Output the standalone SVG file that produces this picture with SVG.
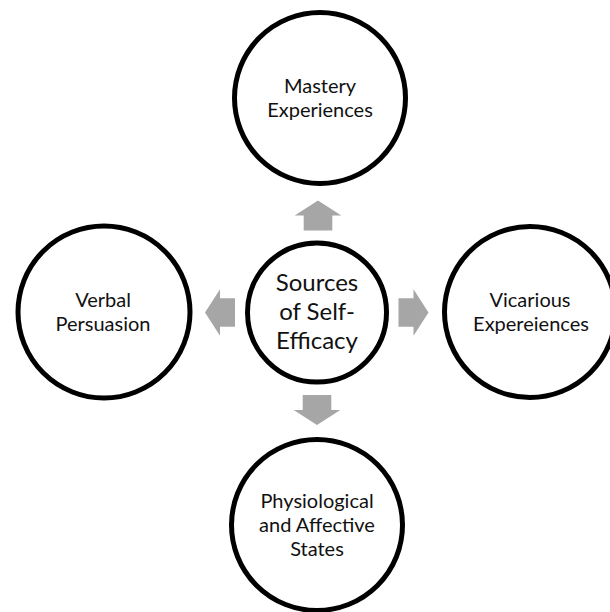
<svg xmlns="http://www.w3.org/2000/svg" xmlns:xlink="http://www.w3.org/1999/xlink" width="610" height="612" viewBox="0 0 610 612">
  <style>
    .node circle { fill: #ffffff; stroke: #000000; stroke-width: 5; }
    .label { font-family: "Lato", "Liberation Sans", sans-serif; font-size: 20px; fill: #111111; text-anchor: middle; }
    .hub { font-size: 24px; }
    .arrow { fill: #a6a6a6; }
  </style>
  <defs>
    <!-- block arrow pointing up, tip at the origin -->
    <polygon id="blockArrow" points="0,0 23.3,15 14.3,15 14.3,30 -14.3,30 -14.3,15 -23.3,15"/>
  </defs>

  <rect width="610" height="612" fill="#ffffff"/>

  <g id="connectors">
    <use xlink:href="#blockArrow" class="arrow" transform="translate(318,200.5)"/>
    <use xlink:href="#blockArrow" class="arrow" transform="translate(317,425) rotate(180)"/>
    <use xlink:href="#blockArrow" class="arrow" transform="translate(205,312.5) rotate(-90)"/>
    <use xlink:href="#blockArrow" class="arrow" transform="translate(428.5,312.5) rotate(90)"/>
  </g>

  <g id="node-center" class="node">
    <circle cx="317" cy="312.5" r="69.5"/>
    <text class="label hub" x="317" y="290.5">Sources</text>
    <text class="label hub" x="317" y="319.5">of Self-</text>
    <text class="label hub" x="317" y="348.5">Efficacy</text>
  </g>

  <g id="node-mastery" class="node">
    <circle cx="320" cy="98" r="85.5"/>
    <text class="label" x="320" y="93">Mastery</text>
    <text class="label" x="320" y="117">Experiences</text>
  </g>

  <g id="node-verbal" class="node">
    <circle cx="104" cy="312" r="86"/>
    <text class="label" x="103" y="307">Verbal</text>
    <text class="label" x="103" y="331">Persuasion</text>
  </g>

  <g id="node-vicarious" class="node">
    <circle cx="530" cy="312" r="85.5"/>
    <text class="label" x="530" y="307">Vicarious</text>
    <text class="label" x="531" y="331">Expereiences</text>
  </g>

  <g id="node-physiological" class="node">
    <circle cx="317" cy="525" r="85.5"/>
    <text class="label" x="317" y="508">Physiological</text>
    <text class="label" x="317" y="532">and Affective</text>
    <text class="label" x="317" y="555.5">States</text>
  </g>
</svg>
